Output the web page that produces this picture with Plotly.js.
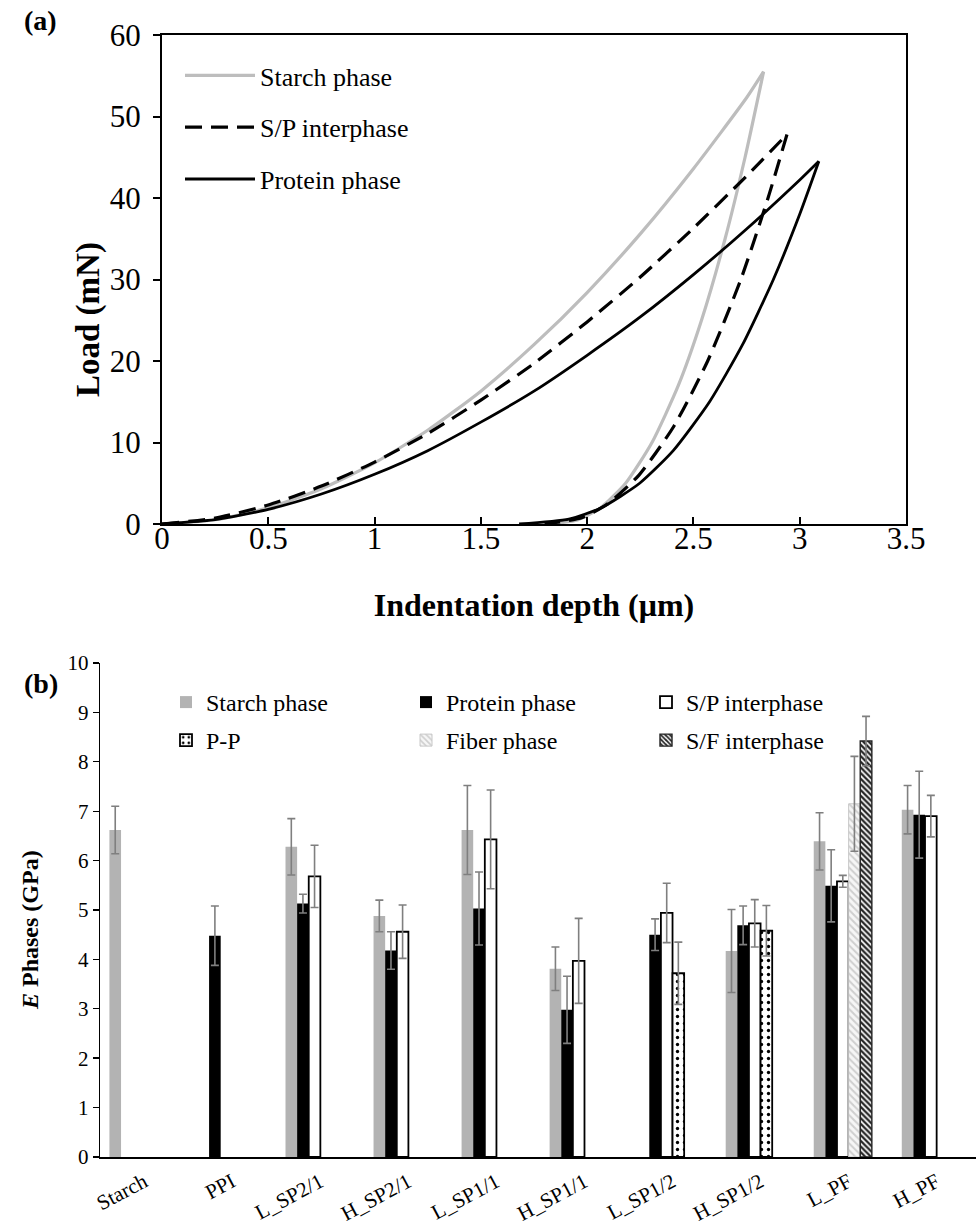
<!DOCTYPE html>
<html>
<head>
<meta charset="utf-8">
<script src="https://cdn.plot.ly/plotly-3.0.1.min.js"></script>
<style>html,body{margin:0;padding:0;background:#fff;}#chart{width:976px;height:1228px;}</style>
</head>
<body>
<div id="chart"></div>
<script>
// ---------- Panel (a): load–depth curves ----------
const starchLoadX = [0, 0.25, 0.5, 0.75, 1.0, 1.25, 1.5, 1.75, 2.0, 2.25, 2.5, 2.75, 2.83];
const starchLoadY = [0, 0.52, 1.98, 4.32, 7.5, 11.5, 16.3, 22.0, 28.4, 35.6, 43.6, 52.3, 55.5];
const starchUnloadX = [2.83, 2.743, 2.649, 2.538, 2.429, 2.305, 2.181, 2.064, 1.955, 1.82];
const starchUnloadY = [55.5, 45, 35, 25, 17, 10, 5, 2, 0.5, 0];

const spLoadX = [0, 0.25, 0.5, 0.75, 1.0, 1.25, 1.5, 1.75, 2.0, 2.25, 2.5, 2.75, 2.94];
const spLoadY = [0, 0.72, 2.33, 4.65, 7.6, 11.1, 15.2, 19.7, 24.8, 30.3, 36.3, 42.7, 47.8];
const spUnloadX = [2.94, 2.851, 2.723, 2.567, 2.408, 2.244, 2.098, 1.978, 1.80];
const spUnloadY = [47.8, 40, 30, 20, 12, 6, 2.5, 0.8, 0];

const protLoadX = [0, 0.25, 0.5, 0.75, 1.0, 1.25, 1.5, 1.75, 2.0, 2.25, 2.5, 2.75, 3.0, 3.09];
const protLoadY = [0, 0.53, 1.80, 3.68, 6.1, 9.0, 12.5, 16.3, 20.7, 25.4, 30.6, 36.2, 42.2, 44.5];
const protUnloadX = [3.09, 3.0, 2.876, 2.731, 2.576, 2.405, 2.247, 2.067, 1.914, 1.68];
const protUnloadY = [44.5, 38, 30, 22, 15, 9, 5, 2, 0.6, 0];

// ---------- Panel (b): elastic modulus of phases ----------
const categories = ['Starch', 'PPI', 'L_SP2/1', 'H_SP2/1', 'L_SP1/1', 'H_SP1/1', 'L_SP1/2', 'H_SP1/2', 'L_PF', 'H_PF'];
const starchE    = [6.62, null, 6.28, 4.88, 6.62, 3.81, null, 4.17, 6.39, 7.03];
const starchErr  = [0.48, null, 0.57, 0.32, 0.90, 0.44, null, 0.84, 0.58, 0.49];
const proteinE   = [null, 4.48, 5.13, 4.18, 5.03, 2.98, 4.50, 4.69, 5.49, 6.93];
const proteinErr = [null, 0.60, 0.19, 0.38, 0.74, 0.68, 0.32, 0.39, 0.73, 0.88];
const spE        = [null, null, 5.68, 4.56, 6.43, 3.97, 4.94, 4.73, 5.58, 6.90];
const spErr      = [null, null, 0.63, 0.54, 1.00, 0.86, 0.60, 0.48, 0.12, 0.42];
const ppE        = [null, null, null, null, null, null, 3.72, 4.58, null, null];
const ppErr      = [null, null, null, null, null, null, 0.63, 0.51, null, null];
const fiberE     = [null, null, null, null, null, null, null, null, 7.15, null];
const fiberErr   = [null, null, null, null, null, null, null, null, 0.96, null];
const sfE        = [null, null, null, null, null, null, null, null, 8.42, null];
const sfErr      = [null, null, null, null, null, null, null, null, 0.50, null];

const FONT = '"Liberation Serif", "Times New Roman", serif';
const W = 976, H = 1228;
const fx = px => px / W;
const fy = px => 1 - px / H;

const traces = [];
function curve(name, lx, ly, ux, uy, line, grp) {
  traces.push({x: lx, y: ly, type: 'scatter', mode: 'lines', name: name, legendgroup: grp,
    line: Object.assign({shape: 'spline', smoothing: 0.6}, line), xaxis: 'x', yaxis: 'y', legend: 'legend'});
  traces.push({x: ux, y: uy, type: 'scatter', mode: 'lines', name: name, legendgroup: grp, showlegend: false,
    line: Object.assign({shape: 'spline', smoothing: 0.6}, line), xaxis: 'x', yaxis: 'y'});
}
curve('Starch phase', starchLoadX, starchLoadY, starchUnloadX, starchUnloadY, {color: '#bdbdbd', width: 3.2}, 'g1');
curve('S/P interphase', spLoadX, spLoadY, spUnloadX, spUnloadY, {color: '#000', width: 3.2, dash: '17px,9px'}, 'g2');
curve('Protein phase', protLoadX, protLoadY, protUnloadX, protUnloadY, {color: '#000', width: 2.8}, 'g3');

const BW = 0.132;
function slot(k) { return -0.393 + k * BW; }
function bar(name, vals, errs, k, marker, legend) {
  traces.push({
    x: categories, y: vals, type: 'bar', name: name, xaxis: 'x2', yaxis: 'y2',
    width: BW, offset: slot(k), marker: marker, legend: legend,
    error_y: {type: 'data', array: errs, visible: true, color: '#7f7f7f', thickness: 1.6, width: 4}
  });
}
bar('Starch phase', starchE, starchErr, 0, {color: '#b3b3b3', line: {width: 0}}, 'legend2');
bar('Protein phase', proteinE, proteinErr, 1, {color: '#000000', line: {width: 0}}, 'legend2');
bar('S/P interphase', spE, spErr, 2, {color: '#ffffff', line: {color: '#000', width: 1.8}}, 'legend2');
bar('P-P', ppE, ppErr, 3, {color: '#ffffff', line: {color: '#000', width: 1.8},
  pattern: {shape: '.', fgcolor: '#000', bgcolor: '#fff', size: 7, solidity: 0.18}}, 'legend3');
bar('Fiber phase', fiberE, fiberErr, 3, {color: '#f4f4f4', line: {color: '#c8c8c8', width: 1},
  pattern: {shape: '\\', fgcolor: '#cfcfcf', bgcolor: '#f6f6f6', size: 5, solidity: 0.4}}, 'legend3');
bar('S/F interphase', sfE, sfErr, 4, {color: '#ffffff', line: {color: '#222', width: 1.4},
  pattern: {shape: '\\', fgcolor: '#222', bgcolor: '#fff', size: 4, solidity: 0.55}}, 'legend3');

const layout = {
  width: W, height: H,
  margin: {l: 0, r: 0, t: 0, b: 0},
  paper_bgcolor: '#fff', plot_bgcolor: 'rgba(0,0,0,0)',
  font: {family: FONT, color: '#000'},
  barmode: 'overlay',
  xaxis: {
    domain: [fx(162), fx(906)], anchor: 'y', range: [0, 3.5], dtick: 0.5, tick0: 0,
    showgrid: false, zeroline: false, showline: true, linecolor: '#000', linewidth: 2, mirror: true,
    ticks: 'inside', ticklen: 7, tickwidth: 2, tickcolor: '#000', ticklabelstandoff: -14,
    tickfont: {family: FONT, size: 31},
    title: {text: '<b>Indentation depth (μm)</b>', font: {family: FONT, size: 32}, standoff: 38}
  },
  yaxis: {
    domain: [fy(524), fy(35)], anchor: 'x', range: [0, 60], dtick: 10,
    showgrid: false, zeroline: false, showline: true, linecolor: '#000', linewidth: 2, mirror: true,
    ticks: 'outside', ticklen: 7, tickwidth: 2, tickcolor: '#000', ticklabelstandoff: 6,
    tickfont: {family: FONT, size: 31}
  },
  xaxis2: {
    domain: [fx(100), 1], anchor: 'y2', type: 'category', range: [-0.5, 9.45],
    showgrid: false, zeroline: false, showline: true, linecolor: '#000', linewidth: 1.6,
    ticks: '', tickangle: -28, tickfont: {family: FONT, size: 21}, ticklabelstandoff: 3
  },
  yaxis2: {
    domain: [fy(1157), fy(663)], anchor: 'x2', range: [0, 10], dtick: 1,
    showgrid: false, zeroline: false, showline: true, linecolor: '#000', linewidth: 1.4,
    ticks: 'outside', ticklen: 6, tickwidth: 1.4, tickcolor: '#000',
    tickfont: {family: FONT, size: 21}
  },
  legend: {
    x: fx(180), y: fy(52), xanchor: 'left', yanchor: 'top', orientation: 'v',
    bgcolor: 'rgba(0,0,0,0)', borderwidth: 0, font: {family: FONT, size: 26},
    tracegroupgap: 15, itemwidth: 70, traceorder: 'grouped'
  },
  legend2: {
    x: fx(166), y: fy(680), xanchor: 'left', yanchor: 'top', orientation: 'h',
    bgcolor: 'rgba(0,0,0,0)', borderwidth: 0, font: {family: FONT, size: 24},
    entrywidth: 195, entrywidthmode: 'pixels', itemwidth: 30
  },
  legend3: {
    x: fx(166), y: fy(718), xanchor: 'left', yanchor: 'top', orientation: 'h',
    bgcolor: 'rgba(0,0,0,0)', borderwidth: 0, font: {family: FONT, size: 24},
    entrywidth: 195, entrywidthmode: 'pixels', itemwidth: 30
  },
  annotations: [
    {text: '<b>(a)</b>', xref: 'paper', yref: 'paper', x: fx(22), y: fy(20), xanchor: 'left', yanchor: 'middle',
     showarrow: false, font: {family: FONT, size: 28}},
    {text: '<b>(b)</b>', xref: 'paper', yref: 'paper', x: fx(22), y: fy(683), xanchor: 'left', yanchor: 'middle',
     showarrow: false, font: {family: FONT, size: 28}},
    {text: '<b>Load (mN)</b>', xref: 'paper', yref: 'paper', x: fx(88), y: fy(320), xanchor: 'center', yanchor: 'middle',
     textangle: -90, showarrow: false, font: {family: FONT, size: 33}},
    {text: '<b><i>E</i> Phases (GPa)</b>', xref: 'paper', yref: 'paper', x: fx(30), y: fy(930), xanchor: 'center', yanchor: 'middle',
     textangle: -90, showarrow: false, font: {family: FONT, size: 24}}
  ],
  showlegend: true
};

Plotly.newPlot('chart', traces, layout, {displayModeBar: false, staticPlot: true});
</script>
</body>
</html>
